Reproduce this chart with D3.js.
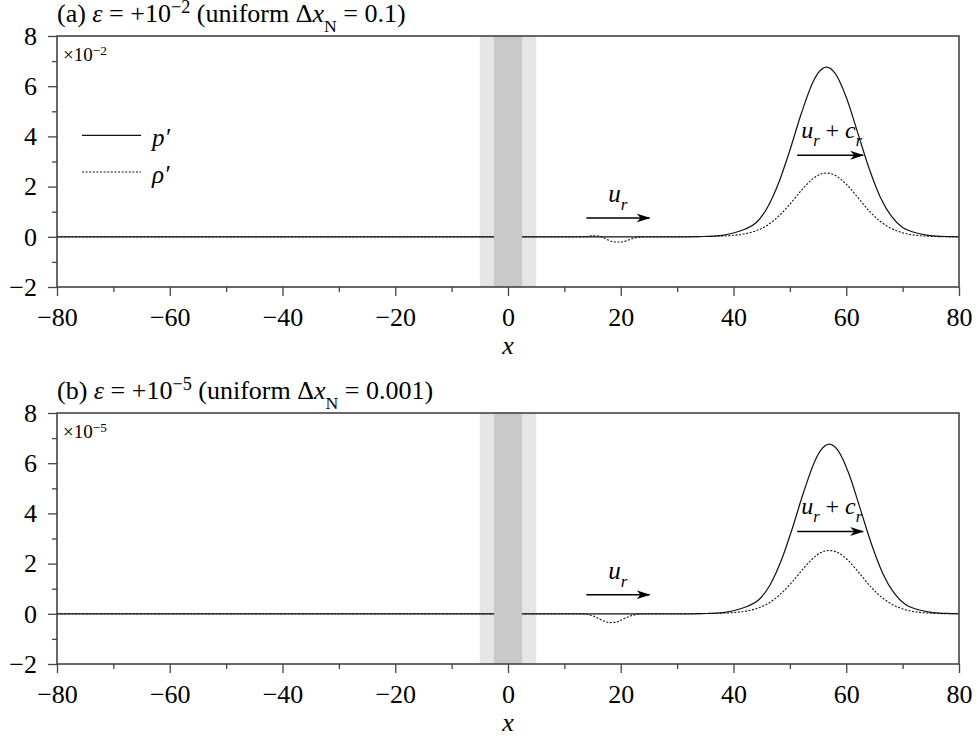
<!DOCTYPE html>
<html>
<head>
<meta charset="utf-8">
<script src="https://cdn.jsdelivr.net/npm/d3@7"></script>
<style>
  body { margin: 0; background: #fff; }
  svg text { font-family: "Liberation Serif", "Times New Roman", serif; fill: #000; }
</style>
</head>
<body>
<div id="chart"></div>
<script>
// ---- data ----
var xTicks = [-80, -60, -40, -20, 0, 20, 40, 60, 80];
var xMinorTicks = [-70, -50, -30, -10, 10, 30, 50, 70];
var yTicks = [-2, 0, 2, 4, 6, 8];
var yMinorTicks = [-1, 1, 3, 5, 7];

// shaded regions (x ranges)
var bandOuter = [-5, 5];
var bandInner = [-2.5, 2.5];

// panel (a): near field (dip in rho') and far field (acoustic pulse)
var xNearA = [-80, 10, 13, 14, 15, 16, 17, 18, 19, 20, 21, 22, 23, 24, 26];
var pNearA = [0, 0, 0, 0, 0, 0, 0, 0, 0, 0, 0, 0, 0, 0, 0];
var rhoNearA = [0, 0, 0, 0.01, 0.04, 0.03, -0.05, -0.15, -0.21, -0.21, -0.16, -0.08, -0.02, 0, 0];
var xFarA = [30, 32, 34, 36, 38, 40, 42, 44, 46, 48, 50, 52, 54, 55, 56.5, 58, 60, 62, 64, 66, 68, 70, 72, 74, 76, 78, 80];
var pFarA = [0, 0, 0.01, 0.02, 0.06, 0.15, 0.30, 0.56, 1.16, 2.14, 3.45, 4.89, 6.12, 6.52, 6.76, 6.52, 5.56, 4.17, 2.76, 1.60, 0.82, 0.37, 0.18, 0.08, 0.03, 0.01, 0];
var rhoFarA = [0, 0, 0.01, 0.02, 0.03, 0.06, 0.12, 0.24, 0.46, 0.82, 1.30, 1.84, 2.30, 2.45, 2.54, 2.45, 2.10, 1.58, 1.05, 0.62, 0.33, 0.16, 0.07, 0.03, 0.01, 0, 0];

// panel (b)
var xNearB = [-80, 10, 13, 14, 15, 16, 17, 18, 19, 20, 21, 22, 23, 24, 26];
var pNearB = [0, 0, 0, 0, 0, 0, 0, 0, 0, 0, 0, 0, 0, 0, 0];
var rhoNearB = [0, 0, 0, -0.02, -0.08, -0.18, -0.29, -0.35, -0.34, -0.26, -0.15, -0.07, -0.02, 0, 0];
var xFarB = [30.5, 32.5, 34.5, 36.5, 38.5, 40.5, 42.5, 44.5, 46.5, 48.5, 50.5, 52.5, 54.5, 55.5, 57, 58.5, 60.5, 62.5, 64.5, 66.5, 68.5, 70.5, 72.5, 74.5, 76.5, 78.5, 80];
var pFarB = [0, 0, 0.01, 0.02, 0.06, 0.15, 0.30, 0.56, 1.16, 2.14, 3.45, 4.89, 6.12, 6.52, 6.76, 6.52, 5.56, 4.17, 2.76, 1.60, 0.82, 0.37, 0.18, 0.08, 0.03, 0.01, 0];
var rhoFarB = [0, 0, 0.01, 0.02, 0.03, 0.06, 0.12, 0.24, 0.46, 0.82, 1.29, 1.83, 2.29, 2.44, 2.52, 2.44, 2.09, 1.57, 1.04, 0.62, 0.33, 0.16, 0.07, 0.03, 0.01, 0, 0];

// arrows: [x0, x1, y] in data units
var arrowUrA = [13.9, 25.1, 0.75];
var arrowUcA = [51.3, 63.0, 3.25];
var arrowUrB = [13.9, 25.1, 0.76];
var arrowUcB = [51.3, 63.0, 3.28];

var W = 980, H = 751;
var left = 57, right = 959;

var svg = d3.select("#chart")
            .append("svg")
            .attr("width", W)
            .attr("height", H);

var defs = svg.append("defs");
defs.append("marker")
    .attr("id", "head")
    .attr("viewBox", "0 0 14 10")
    .attr("refX", 13)
    .attr("refY", 5)
    .attr("markerWidth", 14)
    .attr("markerHeight", 10)
    .attr("markerUnits", "userSpaceOnUse")
    .attr("orient", "auto")
    .append("path")
    .attr("d", "M0,0.5L14,5L0,9.5L4,5Z")
    .attr("fill", "#000");

function zip(xs, ys){
  return xs.map(function(x, i){ return [x, ys[i]]; });
}

// text helper: list of pieces {t, it, sub, sup}
function richText(g, x, y, size, pieces, subShift){
  var t = g.append("text").attr("x", x).attr("y", y).style("font-size", size + "px");
  var shift = 0;
  pieces.forEach(function(p){
    var s = t.append("tspan").text(p.t);
    var target = 0, fs = size;
    if(p.sub){ target = size * (subShift || 0.32); fs = size * 0.68; }
    if(p.sup){ target = -size * 0.34; fs = size * 0.7; }
    s.attr("dy", target - shift).style("font-size", fs + "px");
    if(p.it) s.style("font-style", "italic");
    shift = target;
  });
  return t;
}

function drawPanel(cfg){
  var top = cfg.top, bottom = cfg.top + 251;
  var x = d3.scaleLinear().domain([-80, 80]).range([left, right]);
  var y = d3.scaleLinear().domain([-2, 8]).range([bottom, top]);
  var g = svg.append("g");

  // light band behind curves
  g.append("rect")
   .attr("x", x(bandOuter[0])).attr("y", top)
   .attr("width", x(bandOuter[1]) - x(bandOuter[0])).attr("height", bottom - top)
   .attr("fill", "#e5e5e5");

  var line = d3.line()
               .x(function(d){ return x(d[0]); })
               .y(function(d){ return y(d[1]); })
               .curve(d3.curveMonotoneX);

  var pData = zip(cfg.xNear, cfg.pNear).concat(zip(cfg.xFar, cfg.pFar));
  var rhoData = zip(cfg.xNear, cfg.rhoNear).concat(zip(cfg.xFar, cfg.rhoFar));

  g.append("path").attr("d", line(rhoData))
   .attr("fill", "none").attr("stroke", "#111")
   .attr("stroke-width", 1.1).attr("stroke-dasharray", "2,1.6");

  g.append("path").attr("d", line(pData))
   .attr("fill", "none").attr("stroke", "#111").attr("stroke-width", 1.2);

  // dark band on top of curves
  g.append("rect")
   .attr("x", x(bandInner[0])).attr("y", top)
   .attr("width", x(bandInner[1]) - x(bandInner[0])).attr("height", bottom - top)
   .attr("fill", "#c9c9c9");

  // axes
  var xAxis = d3.axisBottom(x).tickValues(xTicks).tickSize(9).tickPadding(12).tickFormat(d3.format("d"));
  var xMinor = d3.axisBottom(x).tickValues(xMinorTicks).tickSize(5).tickFormat("");
  var yAxis = d3.axisLeft(y).tickValues(yTicks).tickSize(9).tickPadding(11).tickFormat(d3.format("d"));
  var yMinor = d3.axisLeft(y).tickValues(yMinorTicks).tickSize(5).tickFormat("");

  [xAxis, xMinor].forEach(function(a){
    g.append("g").attr("transform", "translate(0," + bottom + ")").call(a);
  });
  [yAxis, yMinor].forEach(function(a){
    g.append("g").attr("transform", "translate(" + left + ",0)").call(a);
  });
  g.selectAll(".domain").remove();
  g.selectAll(".tick line").attr("stroke", "#444").attr("stroke-width", 1.3);
  g.selectAll("g").attr("font-family", null).attr("font-size", null);
  g.selectAll(".tick text").style("font-size", "26px").attr("fill", "#000");

  // frame
  g.append("rect")
   .attr("x", left).attr("y", top)
   .attr("width", right - left).attr("height", bottom - top)
   .attr("fill", "none").attr("stroke", "#444").attr("stroke-width", 1.6);

  // x label
  g.append("text")
   .attr("x", x(0)).attr("y", bottom + 67)
   .attr("text-anchor", "middle")
   .style("font-size", "26px")
   .style("font-style", "italic")
   .text("x");

  // title
  richText(g, left, top - 14, 26, cfg.title, 0.38);

  // scale factor
  richText(g, left + 6, top + 25, 19, [{t: "×10"}, {t: cfg.exp, sup: true}]);

  // arrows
  [cfg.arrowUr, cfg.arrowUc].forEach(function(a){
    g.append("line")
     .attr("x1", x(a[0])).attr("x2", x(a[1]))
     .attr("y1", y(a[2])).attr("y2", y(a[2]))
     .attr("stroke", "#000").attr("stroke-width", 1.4)
     .attr("marker-end", "url(#head)");
  });
  richText(g, x(cfg.arrowUr[0]) + 22, y(cfg.arrowUr[2]) - 16, 25,
           [{t: "u", it: true}, {t: "r", it: true, sub: true}]);
  richText(g, x(cfg.arrowUc[0]) + 4, y(cfg.arrowUc[2]) - 17, 24,
           [{t: "u", it: true}, {t: "r", it: true, sub: true}, {t: " + "}, {t: "c", it: true}, {t: "r", it: true, sub: true}]);

  // legend
  if(cfg.legend){
    var ly1 = y(4.04), ly2 = y(2.58);
    g.append("line").attr("x1", 82).attr("x2", 141).attr("y1", ly1).attr("y2", ly1)
     .attr("stroke", "#111").attr("stroke-width", 1.2);
    g.append("line").attr("x1", 82).attr("x2", 141).attr("y1", ly2).attr("y2", ly2)
     .attr("stroke", "#111").attr("stroke-width", 1.1).attr("stroke-dasharray", "2,1.6");
    g.append("text").attr("x", 152).attr("y", ly1 + 11).style("font-size", "25px")
     .style("font-style", "italic").text("p′");
    g.append("text").attr("x", 152).attr("y", ly2 + 11).style("font-size", "25px")
     .style("font-style", "italic").text("ρ′");
  }
}

drawPanel({
  top: 36, exp: "−2", legend: true,
  title: [{t: "(a) "}, {t: "ε", it: true}, {t: " = +10"}, {t: "−2", sup: true}, {t: " (uniform Δ"},
          {t: "x", it: true}, {t: "N", sub: true}, {t: " = 0.1)"}],
  xNear: xNearA, pNear: pNearA, rhoNear: rhoNearA,
  xFar: xFarA, pFar: pFarA, rhoFar: rhoFarA,
  arrowUr: arrowUrA, arrowUc: arrowUcA
});

drawPanel({
  top: 413, exp: "−5", legend: false,
  title: [{t: "(b) "}, {t: "ε", it: true}, {t: " = +10"}, {t: "−5", sup: true}, {t: " (uniform Δ"},
          {t: "x", it: true}, {t: "N", sub: true}, {t: " = 0.001)"}],
  xNear: xNearB, pNear: pNearB, rhoNear: rhoNearB,
  xFar: xFarB, pFar: pFarB, rhoFar: rhoFarB,
  arrowUr: arrowUrB, arrowUc: arrowUcB
});
</script>
</body>
</html>
